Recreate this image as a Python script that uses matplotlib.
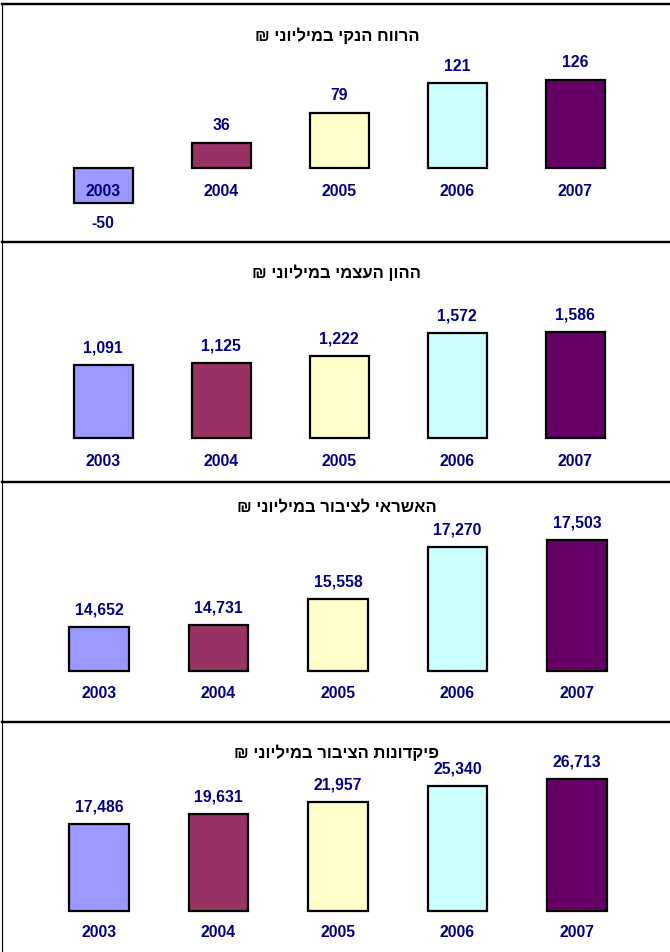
import matplotlib
matplotlib.use("Agg")
import matplotlib.pyplot as plt
from matplotlib.lines import Line2D

plt.rcParams['font.family'] = ['Liberation Sans', 'DejaVu Sans']

years = ["2003", "2004", "2005", "2006", "2007"]
net_profit = [-50, 36, 79, 121, 126]
equity = [1091, 1125, 1222, 1572, 1586]
credit = [14652, 14731, 15558, 17270, 17503]
deposits = [17486, 19631, 21957, 25340, 26713]
titles = ["הרווח הנקי במיליוני ₪",
          "ההון העצמי במיליוני ₪",
          "האשראי לציבור במיליוני ₪",
          "פיקדונות הציבור במיליוני ₪"]
bar_colors = ["#9999FF", "#993366", "#FFFFCC", "#CCFFFF", "#660066"]

W, H = 670, 953
DPI = 100
fig = plt.figure(figsize=(W / DPI, H / DPI), dpi=DPI)
PX = 72.0 / DPI  # points per pixel

panels = [
    dict(data=net_profit, top=5, bot=243, base_px=169, scale=0.70, base=0,
         x0=103, dx=118, title_y=36, year_off=23),
    dict(data=equity, top=243, bot=483, base_px=439, scale=0.0668, base=0,
         x0=103, dx=118, title_y=273, year_off=22),
    dict(data=credit, top=483, bot=723, base_px=672, scale=0.0305, base=13209,
         x0=99, dx=119.5, title_y=508, year_off=21),
    dict(data=deposits, top=723, bot=953, base_px=912, scale=0.00495, base=0,
         x0=99, dx=119.5, title_y=753, year_off=21),
]

label_color = "#000080"

for i, p in enumerate(panels):
    ax = fig.add_axes([2 / W, 1 - p["bot"] / H, (W - 2) / W, (p["bot"] - p["top"]) / H])
    ax.set_xlim((2 - p["x0"]) / p["dx"], (W - p["x0"]) / p["dx"])
    ylo = p["base"] - (p["bot"] - p["base_px"]) / p["scale"]
    yhi = p["base"] + (p["base_px"] - p["top"]) / p["scale"]
    ax.set_ylim(ylo, yhi)
    ax.set_xticks([])
    ax.set_yticks([])
    for s in ax.spines.values():
        s.set_visible(False)
    xs = list(range(len(years)))
    heights = [v - p["base"] for v in p["data"]]
    ax.bar(xs, heights, bottom=p["base"], width=0.5, color=bar_colors,
           edgecolor="black", linewidth=1.6, zorder=2)
    for x, v, yr in zip(xs, p["data"], years):
        ax.annotate(yr, (x, p["base"]), xytext=(0, -p["year_off"] * PX),
                    textcoords="offset points", ha="center", va="center",
                    fontsize=11.3, fontweight="bold", color=label_color, zorder=3)
        if v >= p["base"]:
            off = 18 * PX
        else:
            off = -19 * PX
        ax.annotate(f"{v:,}", (x, v), xytext=(0, off),
                    textcoords="offset points", ha="center", va="center",
                    fontsize=11.3, fontweight="bold", color=label_color, zorder=3)
    fig.text(337 / W, 1 - p["title_y"] / H, titles[i][::-1], ha="center",
             va="center", fontsize=12, fontweight="bold", color="black")

# panel borders
lw_sep = 2.4 * PX
fig.add_artist(Line2D([2 / W, 1], [1 - 5 / H, 1 - 5 / H], color="black", lw=lw_sep))
for yy in [243, 483, 723]:
    fig.add_artist(Line2D([2 / W, 1], [1 - yy / H, 1 - yy / H], color="black", lw=lw_sep))
fig.add_artist(Line2D([1.5 / W, 1.5 / W], [0, 1 - 5 / H], color="black", lw=1.2 * PX))

fig.savefig("out.png", dpi=DPI, facecolor="white")
